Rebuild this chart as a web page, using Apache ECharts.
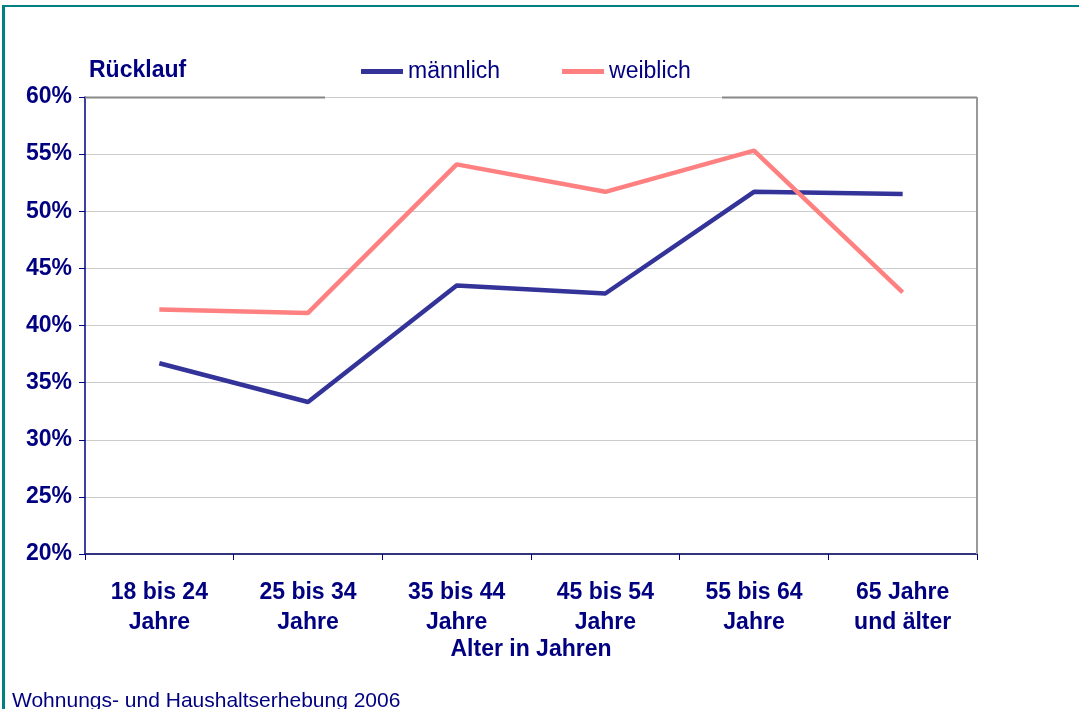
<!DOCTYPE html>
<html>
<head>
<meta charset="utf-8">
<script src="https://cdn.jsdelivr.net/npm/echarts@6/dist/echarts.min.js"></script>
<style>
  html, body { margin: 0; padding: 0; background: #fff; }
  #chart { width: 1079px; height: 709px; }
</style>
</head>
<body>
<div id="chart"></div>
<script>
var categories = ['18 bis 24\nJahre', '25 bis 34\nJahre', '35 bis 44\nJahre', '45 bis 54\nJahre', '55 bis 64\nJahre', '65 Jahre\nund älter'];
var maennlich = [36.7, 33.3, 43.5, 42.8, 51.7, 51.5];
var weiblich = [41.4, 41.1, 54.1, 51.7, 55.3, 42.9];
var yTicks = [20, 25, 30, 35, 40, 45, 50, 55, 60];

var navy = '#000080';
var font = 'Liberation Sans, Arial, sans-serif';

var chart = echarts.init(document.getElementById('chart'));

// grid edges (pixel box of the plot)
var gl = 85, gt = 97, gr = 977, gb = 554;

var option = {
    animation: false,
    backgroundColor: '#fff',
    textStyle: { fontFamily: font },
    title: {
        text: 'Rücklauf',
        left: 89,
        top: 59,
        padding: 0,
        textStyle: { color: navy, fontSize: 23, fontWeight: 'bold', fontFamily: font }
    },
    legend: {
        left: 356,
        top: 55,
        icon: 'rect',
        itemWidth: 42,
        itemHeight: 5,
        itemGap: 62,
        textStyle: { color: navy, fontSize: 23, fontFamily: font, padding: [0, 0, 0, 0] },
        data: ['männlich', 'weiblich']
    },
    grid: {
        left: gl,
        top: gt,
        right: 1079 - gr,
        bottom: 709 - gb
    },
    xAxis: {
        type: 'category',
        data: categories,
        boundaryGap: true,
        name: 'Alter in Jahren',
        nameLocation: 'middle',
        nameGap: 84,
        nameMoveOverlap: false,
        nameTextStyle: { color: navy, fontSize: 23, fontWeight: 'bold', fontFamily: font },
        axisLine: { lineStyle: { color: '#333380', width: 2 } },
        axisTick: { show: true, alignWithLabel: false, length: 6, lineStyle: { color: navy, width: 1 } },
        axisLabel: {
            color: navy, fontSize: 23, fontWeight: 'bold', fontFamily: font,
            lineHeight: 30, margin: 24, interval: 0
        },
        splitLine: { show: false }
    },
    yAxis: {
        type: 'value',
        min: yTicks[0],
        max: yTicks[yTicks.length - 1],
        interval: 5,
        axisLine: { show: true, lineStyle: { color: navy, width: 1.5 } },
        axisTick: { show: true, length: 6, lineStyle: { color: navy } },
        axisLabel: {
            color: navy, fontSize: 23, fontWeight: 'bold', fontFamily: font, margin: 13,
            formatter: '{value}%'
        },
        splitLine: { show: true, lineStyle: { color: '#cccccc', width: 1 } }
    },
    graphic: [
        // outer teal frame (top and left edges visible)
        { type: 'line', shape: { x1: 2, y1: 6, x2: 1079, y2: 6 }, style: { stroke: '#008080', lineWidth: 2 } },
        { type: 'line', shape: { x1: 3.5, y1: 5, x2: 3.5, y2: 709 }, style: { stroke: '#008080', lineWidth: 3 } },
        // plot frame top (interrupted by the legend) and right
        { type: 'line', z: 5, shape: { x1: gl, y1: gt + 0.5, x2: 325, y2: gt + 0.5 }, style: { stroke: '#888888', lineWidth: 2 } },
        { type: 'line', z: 5, shape: { x1: 722, y1: gt + 0.5, x2: gr, y2: gt + 0.5 }, style: { stroke: '#888888', lineWidth: 2 } },
        { type: 'line', z: 5, shape: { x1: gr, y1: gt, x2: gr, y2: gb }, style: { stroke: '#999999', lineWidth: 2 } },
        // source note
        {
            type: 'text', left: 12, top: 691,
            style: { text: 'Wohnungs- und Haushaltserhebung 2006', fill: navy, font: '21px ' + font }
        }
    ],
    series: [
        {
            name: 'männlich',
            type: 'line',
            data: maennlich,
            symbol: 'none',
            color: '#333399',
            lineStyle: { color: '#333399', width: 4.5 },
            z: 3
        },
        {
            name: 'weiblich',
            type: 'line',
            data: weiblich,
            symbol: 'none',
            color: '#FF8080',
            lineStyle: { color: '#FF8080', width: 4.5 },
            z: 4
        }
    ]
};

chart.setOption(option);
</script>
</body>
</html>
